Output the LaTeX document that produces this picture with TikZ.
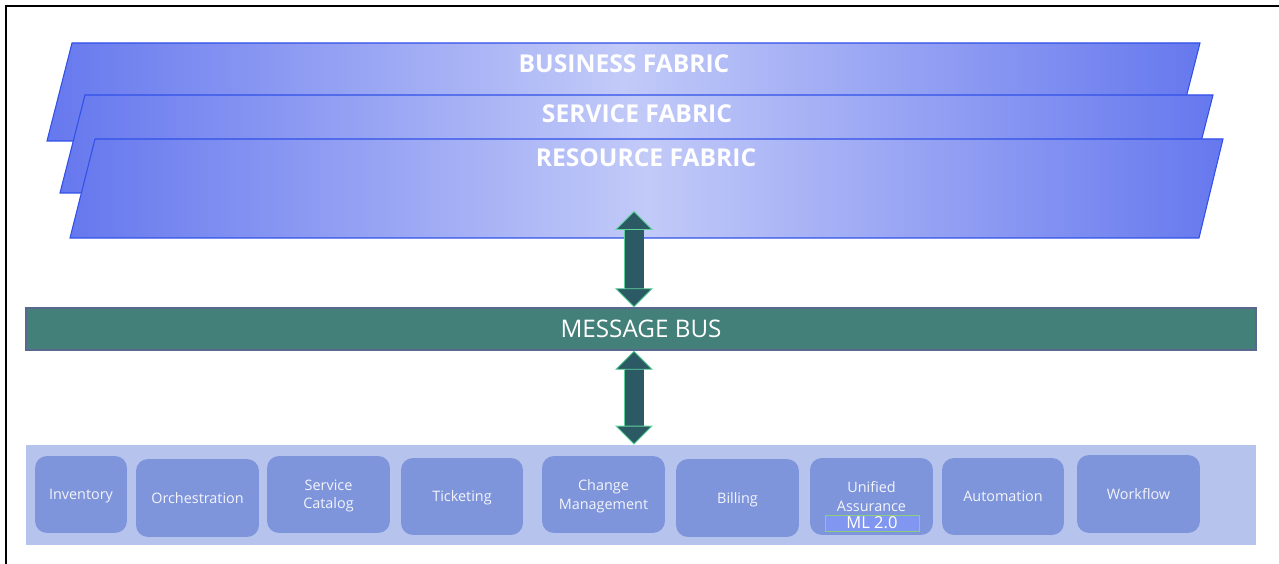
\documentclass[tikz,border=0pt]{standalone}
\usepackage{fontspec}
\setmainfont{Open Sans}
\usetikzlibrary{positioning,arrows.meta}
\definecolor{fabdark}{HTML}{6678EE}
\definecolor{fablight}{HTML}{C2CAF8}
\definecolor{fabedge}{HTML}{3050E8}
\definecolor{busfill}{HTML}{43807A}
\definecolor{busedge}{HTML}{5A6890}
\definecolor{arrowfill}{HTML}{2B5A64}
\definecolor{arrowedge}{HTML}{5ED29C}
\definecolor{panelfill}{HTML}{B6C3EC}
\definecolor{appfill}{HTML}{7F95DB}
\definecolor{apptext}{HTML}{F2F4FB}
\definecolor{mlfill}{HTML}{8096F0}
\definecolor{mledge}{HTML}{8CCF7A}
\tikzset{fabric/.style = {draw=fabedge, line width=0.6pt, left color=fabdark, right color=fabdark, middle color=fablight}}
\tikzset{fabrictext/.style = {text=white, font=\fontsize{14}{16}\selectfont\bfseries}}
\tikzset{bus/.style = {draw=busedge, line width=0.8pt, fill=busfill, text=white, minimum width=24.6cm, minimum height=0.84cm, inner sep=0pt, font=\fontsize{13.8}{15}\selectfont}}
\tikzset{panel/.style = {fill=panelfill, minimum width=24.6cm, minimum height=2cm, inner sep=0pt}}
\tikzset{appbox/.style = {rounded corners=0.24cm, fill=appfill, text=apptext, minimum width=2.46cm, minimum height=1.54cm, align=center, inner sep=0pt, text depth=0pt, font=\fontsize{8.2}{10.4}\selectfont}}
\tikzset{mlbox/.style = {draw=mledge, line width=0.5pt, fill=mlfill, text=white, minimum width=1.88cm, minimum height=0.32cm, inner sep=0pt, font=\fontsize{9.4}{10}\selectfont}}
\tikzset{busarrow/.style = {draw=arrowfill, line width=0.38cm,
    {Triangle[length=0.38cm, width=0.76cm, line width=0.5pt, color=arrowedge, fill=arrowfill]}-{Triangle[length=0.38cm, width=0.76cm, line width=0.5pt, color=arrowedge, fill=arrowfill]},
    preaction={draw=arrowedge, line width=0.405cm, shorten <=0.38cm, shorten >=0.38cm, arrows=-}}}

\begin{document}
\begin{tikzpicture}[x=0.02cm, y=-0.02cm]
    \useasboundingbox (0,0) rectangle (1279,564);
    \draw[line width=1.1pt] (6,564) -- (6,6) -- (1279,6);

    % the three fabrics
    \path[fabric] (72,43) -- (1200,43) -- (1175,141) -- (47,141) -- cycle;
    \node [fabrictext] (business) at (624,64)  {BUSINESS FABRIC};
    \path[fabric] (85,95) -- (1213,95) -- (1188,193) -- (60,193) -- cycle;
    \node [fabrictext] (service)  at (637,114) {SERVICE FABRIC};
    \path[fabric] (95,139) -- (1223,139) -- (1199,238) -- (70,238) -- cycle;
    \node [fabrictext] (resource) at (646,158) {RESOURCE FABRIC};

    \node [bus]   (bus)  at (641,329) {MESSAGE BUS};
    \node [panel] (apps) at (641,495) {};

    \node [appbox, minimum width=1.84cm]  (inv)  at (  81,494.5) {Inventory};
    \node [appbox, minimum height=1.56cm] (orch) at (197.5,498)  {Orchestration};
    \node [appbox]                        (cat)  at (328.5,494.5) {Service\\Catalog};
    \node [appbox, minimum width=2.44cm]  (tick) at ( 462,496.5) {Ticketing};
    \node [appbox]                        (chg)  at (603.5,494.5) {Change\\Management};
    \node [appbox, minimum height=1.56cm] (bill) at (737.5,498)  {Billing};
    \node [appbox]                        (ua)   at (871.5,496.5) {Unified\\Assurance};
    \node [appbox, minimum width=2.44cm]  (auto) at (1003,496.5) {Automation};
    \node [appbox, minimum height=1.56cm] (wf)   at (1138.5,494) {Workflow};
    \node [mlbox] (ml) at (872,523) {ML 2.0};

    \coordinate (restip) at (634,211);
    \draw[busarrow] (restip) -- (restip |- bus.north);
    \draw[busarrow] (restip |- bus.south) -- (restip |- apps.north);
\end{tikzpicture}
\end{document}
